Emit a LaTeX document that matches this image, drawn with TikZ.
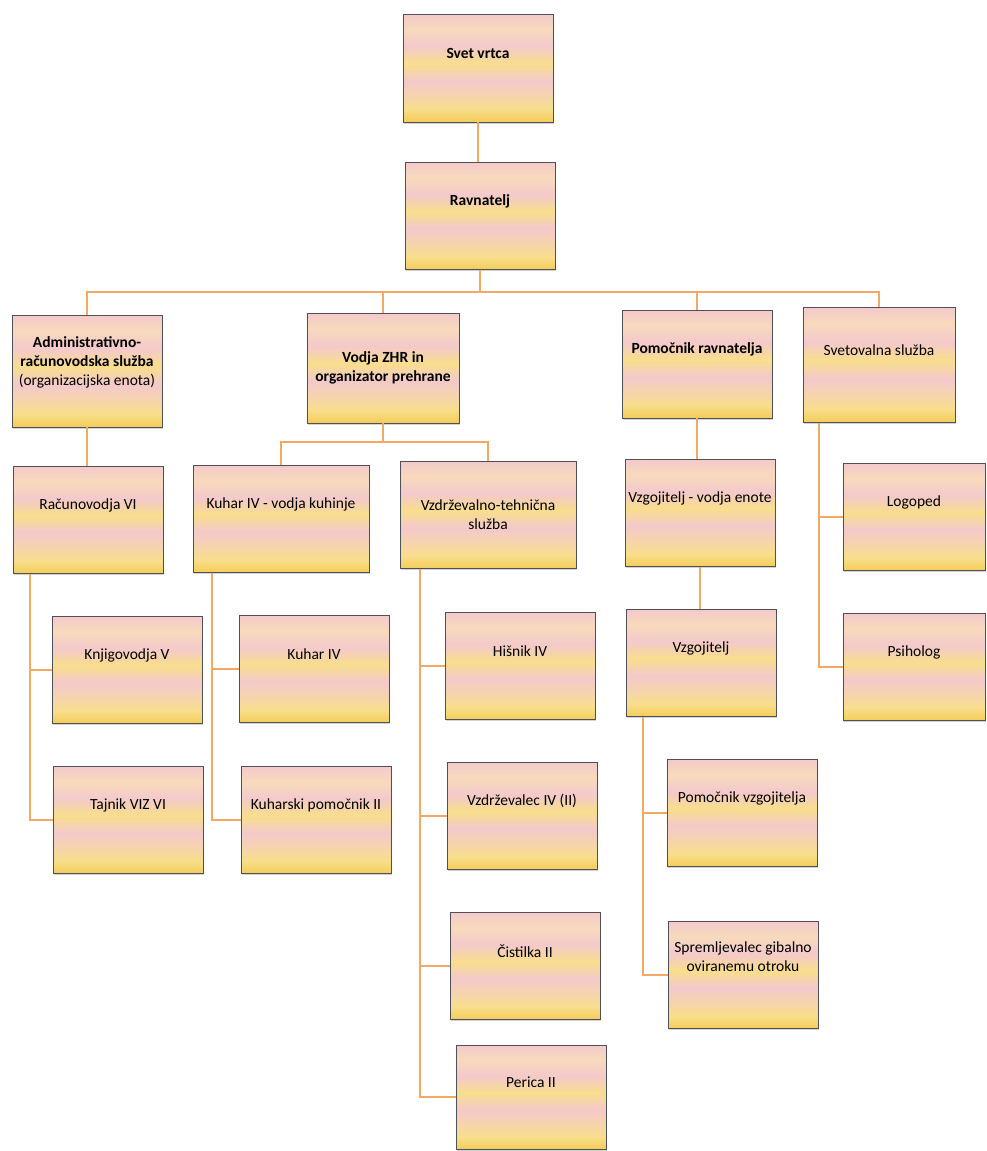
\documentclass[tikz,border=0pt]{standalone}
\usepackage{fontspec}
\setmainfont{Carlito}
\usetikzlibrary{shadows}
\definecolor{boxpink}{RGB}{244,201,203}
\definecolor{boxyel}{RGB}{248,222,140}
\definecolor{boxgold}{RGB}{244,204,88}
\definecolor{boxmix}{RGB}{246,212,172}
\definecolor{boxlight}{RGB}{247,218,188}
\definecolor{linkcol}{RGB}{244,168,100}
\definecolor{edgecol}{RGB}{80,80,88}
\pgfdeclareverticalshading{unitshade}{100bp}{color(0bp)=(boxgold); color(25bp)=(boxgold); color(31bp)=(boxyel); color(37bp)=(boxmix); color(44bp)=(boxpink); color(52bp)=(boxyel); color(60bp)=(boxpink); color(68bp)=(boxlight); color(75bp)=(boxpink); color(100bp)=(boxpink)}
\begin{document}
\begin{tikzpicture}[x=1pt,y=-1pt,
  unit/.style={draw=edgecol,line width=.8pt,shading=unitshade,minimum width=150pt,minimum height=107pt,inner sep=0pt,drop shadow={shadow xshift=.5pt,shadow yshift=-1.5pt,opacity=.35}},
  wide/.style={minimum width=176pt},
  txt/.style={align=center,font=\fontsize{15.5}{19}\selectfont,yshift=15pt},
  link/.style={draw=linkcol,line width=2pt}]
\fill[white] (0,0) rectangle (986,1151);
\useasboundingbox (0,0) rectangle (986,1151);
\node[unit,minimum height=108pt,label={[txt]center:\textbf{Svet vrtca}}] (svet) at (478,68) {};
\node[unit,label={[txt]center:\textbf{Ravnatelj}}] (ravn) at (480,216) {};
\node[unit,minimum height=112pt,label={[txt,yshift=-6pt]center:{\textbf{Administrativno-}\\\textbf{računovodska služba}\\(organizacijska enota)}}] (admin) at (87,371) {};
\node[unit,minimum width=152pt,minimum height=110pt,label={[txt,yshift=-15pt]center:{\textbf{Vodja ZHR in}\\\textbf{organizator prehrane}}}] (vodja) at (383,368) {};
\node[unit,minimum height=108pt,label={[txt]center:\textbf{Pomočnik ravnatelja}}] (pomr) at (697,364) {};
\node[unit,minimum width=152pt,minimum height=115pt,label={[txt]center:Svetovalna služba}] (svetov) at (879,365) {};
\node[unit,label={[txt]center:Računovodja VI}] (racun) at (88,520) {};
\node[unit,wide,label={[txt]center:Kuhar IV - vodja kuhinje}] (kuharvk) at (281,519) {};
\node[unit,wide,label={[txt,yshift=-15pt]center:{Vzdrževalno-tehnična\\služba}}] (vzdrz) at (488,515) {};
\node[unit,label={[txt]center:Vzgojitelj - vodja enote}] (vzgvod) at (700,513) {};
\node[unit,minimum width=142pt,label={[txt]center:Logoped}] (logo) at (914,517) {};
\node[unit,label={[txt]center:Knjigovodja V}] (knjig) at (127,670) {};
\node[unit,label={[txt]center:Kuhar IV}] (kuhar) at (314,669) {};
\node[unit,label={[txt]center:Hišnik IV}] (hisnik) at (520,666) {};
\node[unit,label={[txt]center:Vzgojitelj}] (vzgoj) at (701,663) {};
\node[unit,minimum width=142pt,label={[txt]center:Psiholog}] (psih) at (914,667) {};
\node[unit,label={[txt]center:Tajnik VIZ VI}] (tajnik) at (128,820) {};
\node[unit,label={[txt]center:Kuharski pomočnik II}] (kuhpom) at (316,820) {};
\node[unit,label={[txt]center:Vzdrževalec IV (II)}] (vzdrzev) at (522,816) {};
\node[unit,label={[txt]center:Pomočnik vzgojitelja}] (pomvzg) at (742,813) {};
\node[unit,label={[txt]center:Čistilka II}] (cist) at (525,966) {};
\node[unit,label={[txt,yshift=3pt]center:{Spremljevalec gibalno\\oviranemu otroku}}] (sprem) at (743,975) {};
\node[unit,minimum height=104pt,label={[txt]center:Perica II}] (perica) at (531,1097) {};
\draw[link] (svet.south) -- (svet.south |- ravn.north);
\foreach \n in {admin,vodja,pomr,svetov}\draw[link] (ravn.south) -- ++(0,22) -| (\n.north);
\foreach \n in {kuharvk,vzdrz}\draw[link] (vodja.south) -- ++(0,19) -| (\n.north);
\draw[link] (admin.south) -- (admin.south |- racun.north);
\draw[link] (pomr.south) -- (pomr.south |- vzgvod.north);
\draw[link] (vzgvod.south) -- (vzgvod.south |- vzgoj.north);
\foreach \n in {logo,psih}\draw[link] ([xshift=16pt]svetov.south west) |- (\n.west);
\foreach \n in {knjig,tajnik}\draw[link] ([xshift=17pt]racun.south west) |- (\n.west);
\foreach \n in {kuhar,kuhpom}\draw[link] ([xshift=19pt]kuharvk.south west) |- (\n.west);
\foreach \n in {hisnik,vzdrzev,cist,perica}\draw[link] ([xshift=20pt]vzdrz.south west) |- (\n.west);
\foreach \n in {pomvzg,sprem}\draw[link] ([xshift=17pt]vzgoj.south west) |- (\n.west);
\end{tikzpicture}
\end{document}
